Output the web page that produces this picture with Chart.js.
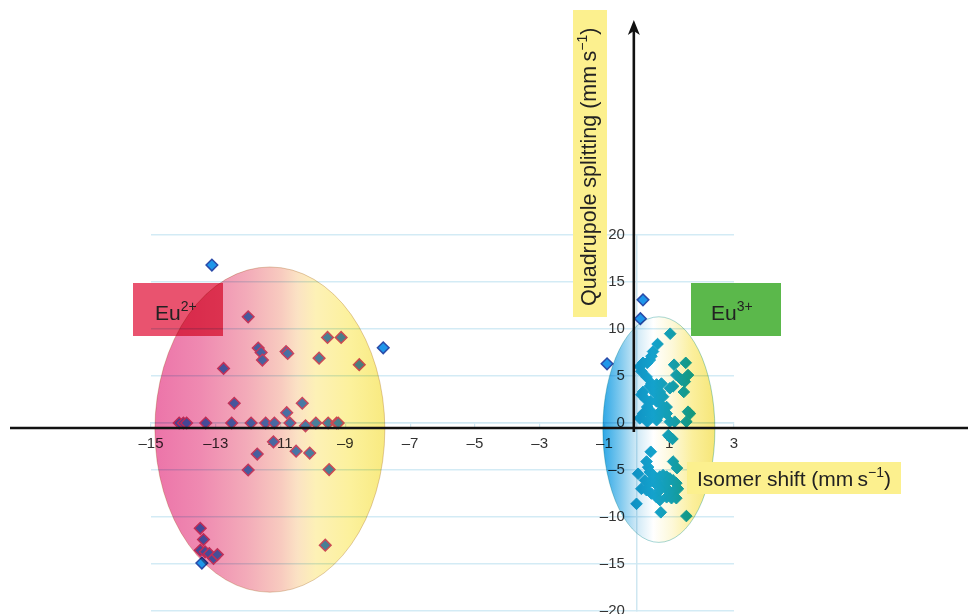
<!DOCTYPE html>
<html>
<head>
<meta charset="utf-8">
<script src="https://cdn.jsdelivr.net/npm/chart.js@4.4.1/dist/chart.umd.min.js"></script>
<style>
  html, body { margin: 0; padding: 0; background: #fff; overflow: hidden; }
  #wrap { width: 968px; height: 614px; overflow: hidden; }
</style>
</head>
<body>
<div id="wrap"><canvas id="chart" width="968" height="623"></canvas></div>
<script>
// Eu2+ compounds (isomer shift, quadrupole splitting)
const eu2X = [-12.0, -9.55, -9.13, -11.69, -11.6, -11.56, -10.83, -10.78, -9.81, -8.57, -12.76, -12.43, -10.33, -10.81,
  -14.13, -14.0, -13.9, -13.31, -12.51, -11.91, -11.46, -11.19, -10.71, -10.23, -9.91, -9.53, -9.27, -9.22,
  -11.22, -10.52, -10.1, -11.72, -12.0, -9.5, -13.48, -13.38, -13.48, -13.33, -13.2, -13.07, -12.95, -9.62];
const eu2Y = [11.3, 9.1, 9.1, 7.97, 7.5, 6.7, 7.6, 7.4, 6.9, 6.2, 5.8, 2.1, 2.1, 1.1,
  0, 0, 0, 0, 0, 0, 0, 0, 0, -0.3, 0, 0, 0, 0,
  -2.0, -3.0, -3.2, -3.3, -5.0, -4.95, -11.2, -12.4, -13.55, -13.7, -13.9, -14.4, -14.0, -13.0];

// Eu3+ compounds
const eu3X = [1.03, 0.64, 0.5, 0.45, 0.4, 0.32, 0.19, 0.09, 0.14, 1.15, 1.51, 1.22, 1.58, 1.48, 1.38, 1.12, 1.02, 1.45,
  0.3, 0.45, 0.61, 0.76, 0.4, 0.56, 0.71, 0.81, 0.19, 0.14, 0.28, 0.42, 0.61, 0.76, 0.92, 0.32, 0.45, 0.66, 0.19, 0.86,
  1.58, 1.64, 1.53, 0.92, 0.71, 0.45, 0.32, 0.61, 1.02, 1.17, 0.09,
  0.97, 1.1, 1.02, 0.43, 0.3, 1.12, 1.24, 0.04,
  0.35, 0.4, 0.5, 0.61, 0.71, 0.81, 0.92, 1.02, 1.12, 1.22, 1.27, 1.17, 1.02, 0.86, 0.71, 0.56, 0.4, 0.25,
  0.14, 0.3, 0.45, 0.61, 0.71, 0.92, 1.07, 1.22, 0.71, 0.9, -0.01, 0.74, 1.53];
const eu3Y = [9.5, 8.4, 7.6, 7.1, 6.7, 6.4, 6.4, 6.0, 5.5, 6.2, 6.4, 5.1, 5.1, 4.4, 4.6, 3.9, 3.7, 3.3,
  4.9, 4.2, 4.1, 4.2, 3.9, 3.2, 3.3, 2.8, 3.3, 3.0, 2.5, 2.3, 2.3, 1.9, 1.7, 1.7, 1.2, 1.0, 1.0, 1.2,
  1.2, 1.0, 0.14, 1.0, 0.85, 0.85, 0.14, 0.3, 0.14, 0.14, 0.5,
  -1.3, -1.7, -1.5, -3.06, -4.1, -4.1, -4.8, -5.4,
  -4.7, -5.2, -5.55, -5.9, -5.7, -5.55, -5.7, -5.9, -6.1, -6.4, -7.0, -7.15, -7.3, -6.8, -6.6, -6.4, -6.3, -6.1,
  -7.0, -7.15, -7.5, -7.9, -8.2, -7.9, -8.0, -8.0, -7.15, -6.4, -8.6, -9.5, -9.9];

// points lying outside both groups
const outX = [-13.12, -7.83, -13.43, 0.19, 0.11, -0.92];
const outY = [16.8, 8.0, -14.9, 13.1, 11.1, 6.3];

const xTicks = [-15, -13, -11, -9, -7, -5, -3, -1, 1, 3];
const yTicks = [-20, -15, -10, -5, 0, 5, 10, 15, 20];

// shaded groups: centre and half-axes in data units
const zoneCx = [-11.33, 0.68];
const zoneCy = [-0.7, -0.7];
const zoneRx = [3.55, 1.73];
const zoneRy = [17.3, 12.0];

const FONT = "'Liberation Sans', Arial, Helvetica, sans-serif";
const pts = (xs, ys) => xs.map((x, i) => ({ x: x, y: ys[i] }));
const fmt = v => (v < 0 ? '\u2013' + Math.abs(v) : String(v));

const zoneStops = [
  [[0, '#ec74a9'], [0.2, '#ef8ab1'], [0.4, '#f3abb9'], [0.55, '#f8cbbf'], [0.62, '#fbe2c4'], [0.7, '#fdf1b6'], [0.85, '#fcf19c'], [1, '#f8ea80']],
  [[0, '#2fa8e6'], [0.15, '#7cc8ee'], [0.3, '#cfe9f6'], [0.45, '#ffffff'], [0.62, '#fdf8d8'], [0.8, '#fbef9c'], [1, '#f6e678']]
];
const zoneEdge = ['rgba(200,160,110,0.5)', 'rgba(110,190,190,0.6)'];

function rich(ctx, parts, x, y, size) {
  parts.forEach(p => {
    const s = p.sup ? Math.round(size * 0.65) : size;
    ctx.font = s + 'px ' + FONT;
    ctx.fillText(p.t, x, p.sup ? y - size * 0.42 : y);
    x += ctx.measureText(p.t).width;
  });
}

const decor = {
  id: 'decor',
  beforeDraw(chart) {
    const c = chart.ctx;
    c.save();
    c.fillStyle = '#fff';
    c.fillRect(0, 0, chart.width, chart.height);
    c.restore();
  },
  afterDatasetsDraw(chart) {
    const { ctx, scales: { x, y } } = chart;
    zoneCx.forEach((zx, i) => {
      const cx = x.getPixelForValue(zx), cy = y.getPixelForValue(zoneCy[i]);
      const rx = Math.abs(x.getPixelForValue(zx + zoneRx[i]) - cx);
      const ry = Math.abs(y.getPixelForValue(zoneCy[i] + zoneRy[i]) - cy);
      const g = ctx.createLinearGradient(cx - rx, 0, cx + rx, 0);
      zoneStops[i].forEach(s => g.addColorStop(s[0], s[1]));
      ctx.save();
      ctx.globalCompositeOperation = 'multiply';
      ctx.beginPath();
      ctx.ellipse(cx, cy, rx, ry, 0, 0, Math.PI * 2);
      ctx.fillStyle = g;
      ctx.fill();
      ctx.strokeStyle = zoneEdge[i];
      ctx.lineWidth = 1;
      ctx.stroke();
      ctx.restore();
    });
  },
  afterDraw(chart) {
    const { ctx, scales: { x, y } } = chart;
    const x0 = x.getPixelForValue(0) - 3;
    const y0 = y.getPixelForValue(0) + 5;
    ctx.save();
    // black axes with arrow
    ctx.strokeStyle = '#111';
    ctx.lineWidth = 2.6;
    ctx.beginPath();
    ctx.moveTo(10, y0); ctx.lineTo(968, y0);
    ctx.moveTo(x0, y0 + 4); ctx.lineTo(x0, 30);
    ctx.stroke();
    ctx.fillStyle = '#111';
    ctx.beginPath();
    ctx.moveTo(x0, 20); ctx.lineTo(x0 + 6, 35); ctx.lineTo(x0, 31); ctx.lineTo(x0 - 6, 35);
    ctx.closePath();
    ctx.fill();

    // Eu2+ tag (blended with the ellipse)
    ctx.save();
    ctx.globalCompositeOperation = 'multiply';
    ctx.fillStyle = '#e9536f';
    ctx.fillRect(133, 283, 90, 53);
    ctx.restore();
    ctx.fillStyle = '#5bb84b';
    ctx.fillRect(691, 283, 90, 53);
    ctx.fillStyle = '#fcf08e';
    ctx.fillRect(687, 462, 214, 32);
    ctx.fillRect(573, 10, 34, 307);

    ctx.fillStyle = '#222';
    ctx.textBaseline = 'alphabetic';
    ctx.textAlign = 'left';
    rich(ctx, [{ t: 'Eu' }, { t: '2+', sup: true }], 155, 320, 21);
    rich(ctx, [{ t: 'Eu' }, { t: '3+', sup: true }], 711, 320, 21);
    rich(ctx, [{ t: 'Isomer shift (mm\u2009s' }, { t: '\u22121', sup: true }, { t: ')' }], 697, 486, 21);
    ctx.translate(596, 306);
    ctx.rotate(-Math.PI / 2);
    rich(ctx, [{ t: 'Quadrupole splitting (mm\u2009s' }, { t: '\u22121', sup: true }, { t: ')' }], 0, 0, 21.5);
    ctx.restore();
  }
};

const tickFont = { family: FONT, size: 15 };

new Chart(document.getElementById('chart'), {
  type: 'scatter',
  data: {
    datasets: [
      {
        label: 'Eu2+',
        data: pts(eu2X, eu2Y),
        pointStyle: 'rectRot',
        pointRadius: 5.8,
        backgroundColor: '#4a86d8',
        borderColor: '#cc4f7c',
        borderWidth: 1.5
      },
      {
        label: 'Eu3+',
        data: pts(eu3X, eu3Y),
        pointStyle: 'rectRot',
        pointRadius: 5.8,
        backgroundColor: '#14a2cc',
        borderColor: '#14a2cc',
        borderWidth: 1
      },
      {
        label: 'other',
        data: pts(outX, outY),
        pointStyle: 'rectRot',
        pointRadius: 5.8,
        backgroundColor: '#1e96ea',
        borderColor: '#2a4aa8',
        borderWidth: 1.5
      }
    ]
  },
  options: {
    responsive: false,
    devicePixelRatio: 1,
    animation: false,
    layout: { padding: { left: 151, right: 234, top: 235, bottom: 4 } },
    plugins: { legend: { display: false }, tooltip: { enabled: false } },
    scales: {
      x: {
        type: 'linear',
        min: -15,
        max: 3,
        position: { y: 0 },
        afterBuildTicks: s => { s.ticks = xTicks.map(v => ({ value: v })); },
        grid: { drawOnChartArea: false, drawTicks: true, tickLength: 4, color: '#cfe7f1', lineWidth: 1.2 },
        border: { display: true, color: '#cfe7f1', width: 1.5 },
        ticks: { padding: 8, font: tickFont, color: '#333', maxRotation: 0, autoSkip: false, callback: v => fmt(v) }
      },
      y: {
        type: 'linear',
        min: -20,
        max: 20,
        position: { x: 0 },
        afterBuildTicks: s => { s.ticks = yTicks.map(v => ({ value: v })); },
        grid: { drawOnChartArea: true, drawTicks: false, color: '#d3ebf5', lineWidth: 1.5 },
        border: { display: true, color: '#cfe7f1', width: 1.5 },
        ticks: { display: false }
      },
      // carries the y tick labels, set a little left of the zero line
      yl: {
        type: 'linear',
        axis: 'y',
        min: -20,
        max: 20,
        position: { x: -0.37 },
        afterBuildTicks: s => { s.ticks = yTicks.map(v => ({ value: v })); },
        grid: { display: false, drawTicks: false },
        border: { display: false },
        ticks: { font: tickFont, color: '#333', autoSkip: false, callback: v => fmt(v) }
      }
    }
  },
  plugins: [decor]
});
</script>
</body>
</html>
